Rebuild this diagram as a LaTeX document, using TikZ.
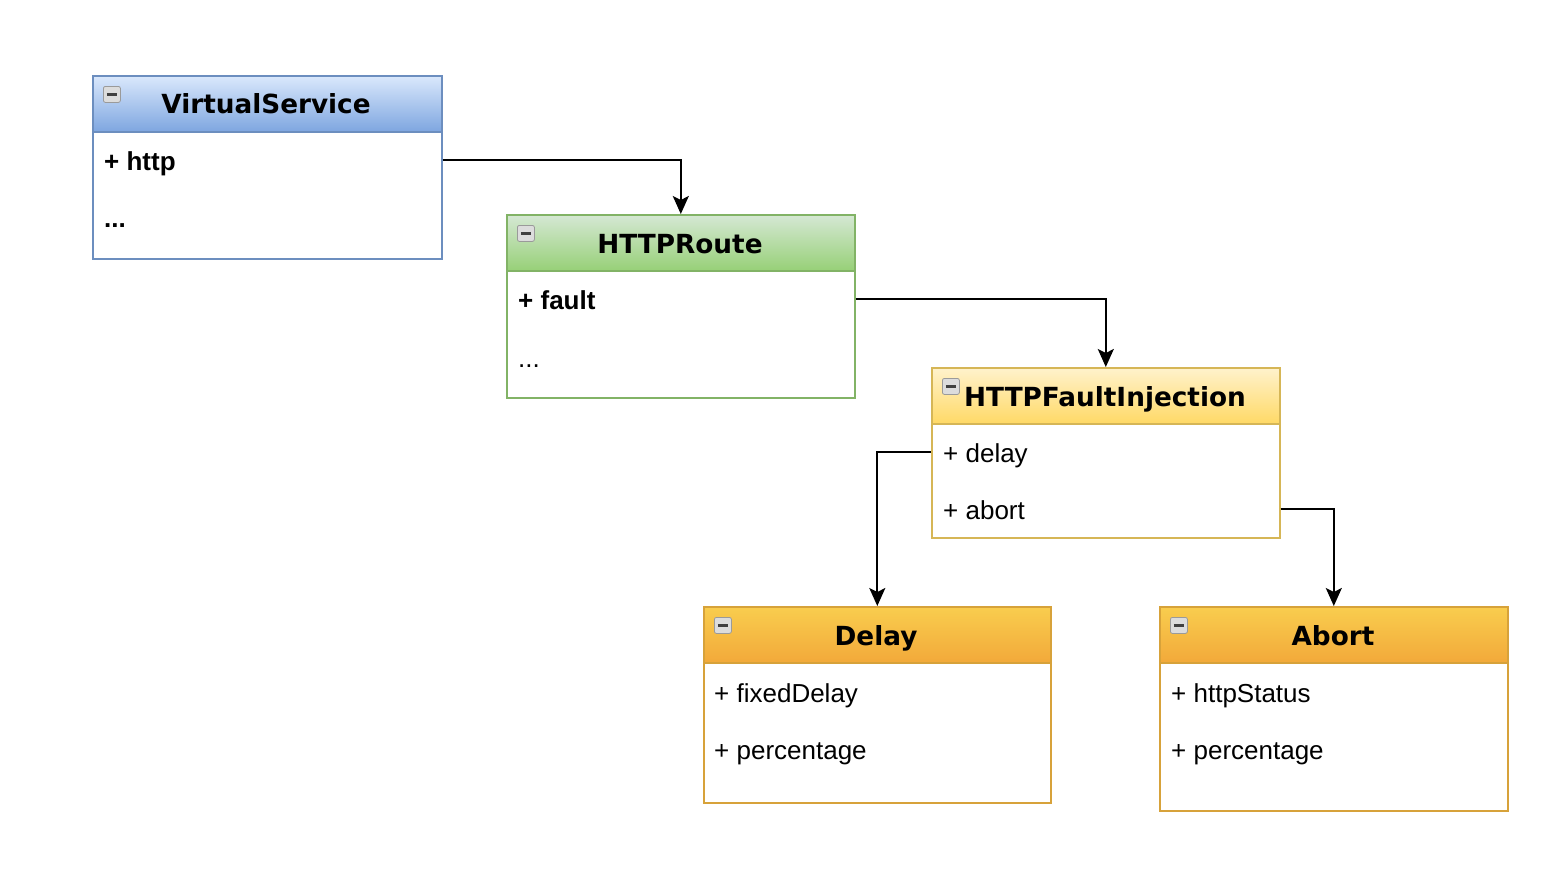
\documentclass[tikz,border=0pt]{standalone}
\usepackage{fontspec}
\setmainfont{Liberation Sans}
\newfontfamily\hdrfont{DejaVu Sans}
\usetikzlibrary{arrows.meta,calc}
\definecolor{blueTop}{HTML}{DAE8FC}
\definecolor{blueBot}{HTML}{7EA6E0}
\definecolor{blueLine}{HTML}{6C8EBF}
\definecolor{greenTop}{HTML}{D5E8D4}
\definecolor{greenBot}{HTML}{97D077}
\definecolor{greenLine}{HTML}{82B366}
\definecolor{yelTop}{HTML}{FFF2CC}
\definecolor{yelBot}{HTML}{FFD966}
\definecolor{yelLine}{HTML}{D6B656}
\definecolor{orTop}{HTML}{F9CD4E}
\definecolor{orBot}{HTML}{F2A93A}
\definecolor{orLine}{HTML}{D7A23A}
\definecolor{iconFill}{HTML}{DCDCDC}
\definecolor{iconLine}{HTML}{9A9A9A}
\tikzset{
  classbox/.style={draw=#1, line width=1.6pt, anchor=north west, inner sep=0pt, fill=white},
  hdrbox/.style n args={3}{draw=#1, line width=1.6pt, anchor=north west, inner sep=0pt,
    top color=#2, bottom color=#3, minimum height=56pt},
  ttl/.style={font=\hdrfont\fontsize{26.3}{30}\selectfont\bfseries, inner sep=0pt, anchor=base},
  attr/.style={anchor=base west, inner sep=0pt, font=\fontsize{26}{30}\selectfont},
  battr/.style={attr, font=\fontsize{26}{30}\selectfont\bfseries},
  icon/.style={draw=iconLine, fill=iconFill, rounded corners=2pt, line width=0.8pt,
    minimum width=17pt, minimum height=16pt, inner sep=0pt, anchor=north west},
  conn/.style={line width=1.8pt, -{Stealth[length=18pt,width=16pt,inset=4pt]}},
}
\newcommand{\umlclass}[8]{%
  % #1 name, #2 x, #3 y, #4 width, #5 height, #6 line, #7 top, #8 bottom
  \node[classbox=#6, minimum width=#4pt, minimum height=#5pt] (#1) at (#2,#3) {};
  \node[hdrbox={#6}{#7}{#8}, minimum width=#4pt] (#1h) at (#2,#3) {};
  \node[icon] (#1i) at ($(#2,#3)+(11,11)$) {};
  \draw[line width=2.2pt, black!75] ($(#1i.center)+(-5,0)$) -- ($(#1i.center)+(5,0)$);
}
\begin{document}
\begin{tikzpicture}[x=1pt,y=-1pt]
\useasboundingbox[fill=white] (0,0) rectangle (1568,884);

% VirtualService
\umlclass{vs}{92}{75}{349}{183}{blueLine}{blueTop}{blueBot}
\node[ttl] (vst) at (266,113) {VirtualService};
\node[battr] (vsa) at (104,170) {+ http};
\node[battr] (vsb) at (104,227) {...};

% HTTPRoute
\umlclass{hr}{506}{214}{348}{183}{greenLine}{greenTop}{greenBot}
\node[ttl] (hrt) at (680,253) {HTTPRoute};
\node[battr] (hra) at (518,309) {+ fault};
\node[attr] (hrb) at (518,367) {...};

% HTTPFaultInjection
\umlclass{fi}{931}{367}{348}{170}{yelLine}{yelTop}{yelBot}
\node[ttl] (fit) at (1105,406) {HTTPFaultInjection};
\node[attr] (fia) at (943,462) {+ delay};
\node[attr] (fib) at (943,519) {+ abort};

% Delay
\umlclass{dl}{703}{606}{347}{196}{orLine}{orTop}{orBot}
\node[ttl] (dlt) at (876,645) {Delay};
\node[attr] (dla) at (714,702) {+ fixedDelay};
\node[attr] (dlb) at (714,759) {+ percentage};

% Abort
\umlclass{ab}{1159}{606}{348}{204}{orLine}{orTop}{orBot}
\node[ttl] (abt) at (1333,645) {Abort};
\node[attr] (aba) at (1171,702) {+ httpStatus};
\node[attr] (abb) at (1171,759) {+ percentage};

% connectors
\draw[conn] (vs.east |- 0,160) -| (hrh.north);
\draw[conn] (hr.east |- 0,299) -| (fih.north);
\draw[conn] (fi.west |- 0,452) -| (dlh.north);
\draw[conn] (fi.east |- 0,509) -| (abh.north);
\end{tikzpicture}
\end{document}
